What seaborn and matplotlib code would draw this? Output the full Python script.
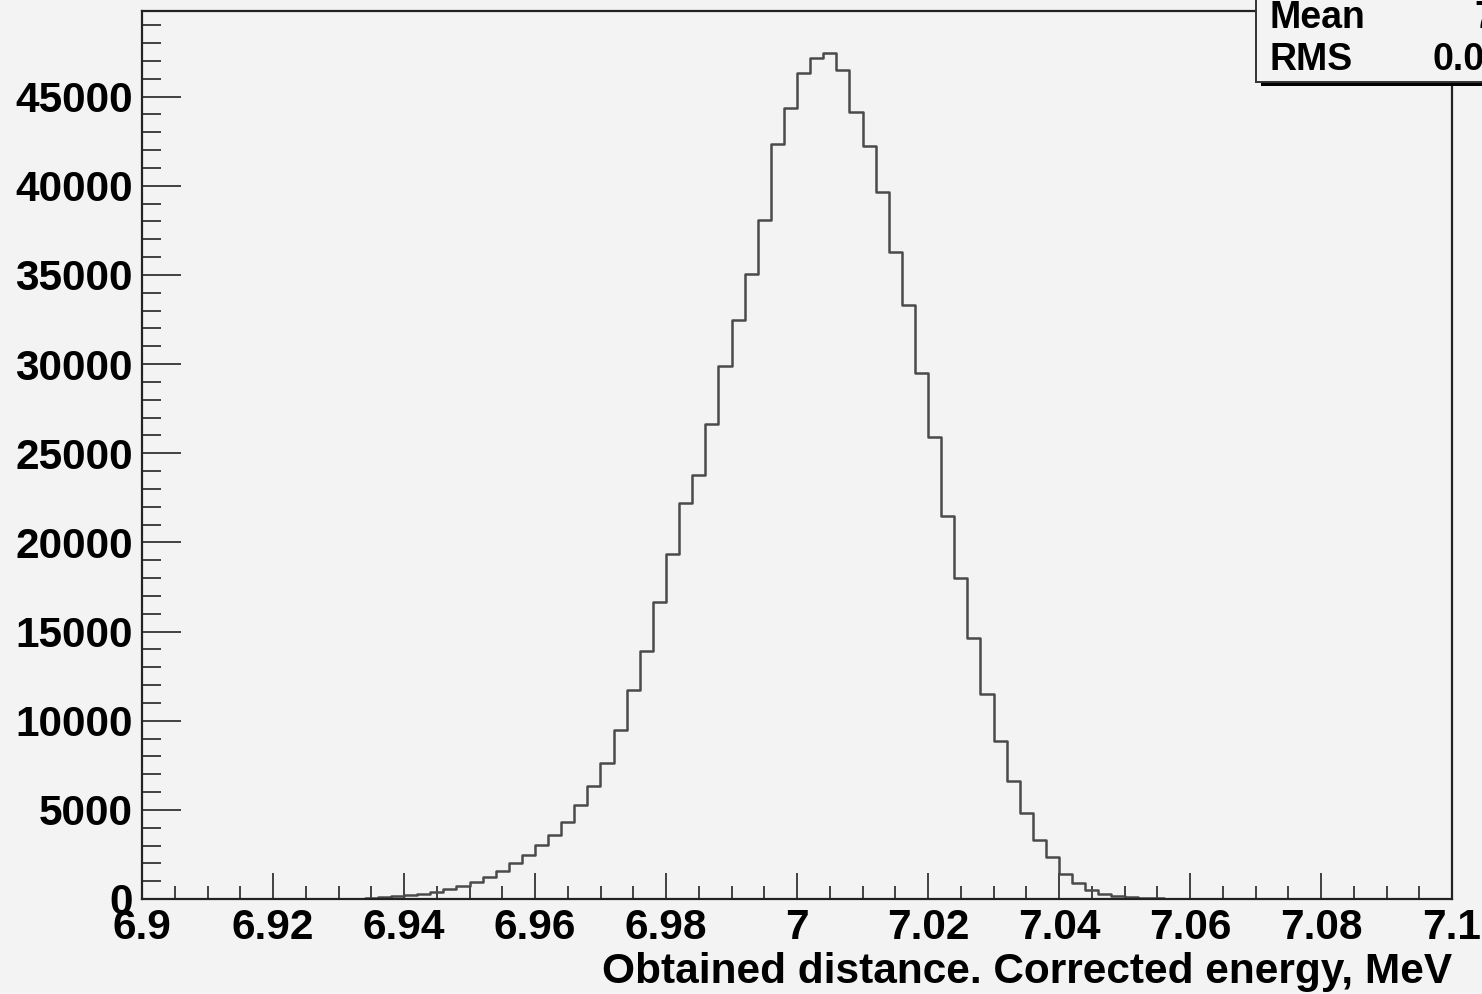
import numpy as np
import pandas as pd
import matplotlib
matplotlib.use("Agg")
import matplotlib.pyplot as plt
from matplotlib.patches import Rectangle
from matplotlib.ticker import MultipleLocator, FuncFormatter
import seaborn as sns

# ---- data ----
x_min, x_max, n_bins = 6.9, 7.1, 100
counts = [0] * 15 + [
    10, 25, 50, 100, 150, 210, 280, 410, 580, 730,            # 15-24
    970, 1250, 1590, 2000, 2470, 3030, 3590, 4340, 5275, 6340,  # 25-34
    7650, 9480, 11730, 13920, 16630, 19340, 22200, 23780, 26660, 29910,  # 35-44
    32490, 35070, 38060, 42370, 44370, 46300, 47180, 47460, 46480, 44160,  # 45-54
    42260, 39670, 36310, 33330, 29480, 25940, 21490, 18000, 14630, 11500,  # 55-64
    8880, 6620, 4840, 3310, 2370, 1390, 920, 505, 280, 170,    # 65-74
    110, 55, 30, 15, 6,                                        # 75-79
] + [0] * 20
x_ticks = [6.9, 6.92, 6.94, 6.96, 6.98, 7.0, 7.02, 7.04, 7.06, 7.08, 7.1]
y_ticks = [0, 5000, 10000, 15000, 20000, 25000, 30000, 35000, 40000, 45000]
x_label = "Obtained distance. Corrected energy, MeV"
stat_names = ["Mean", "RMS"]
stat_values = ["7.002", "0.01552"]

edges = np.linspace(x_min, x_max, n_bins + 1)
centers = 0.5 * (edges[:-1] + edges[1:])
df = pd.DataFrame({"x": centers, "w": counts})

# ---- style ----
W, H, DPI = 1482, 994, 100
bg = "#f3f3f3"
sns.set_theme(style="ticks")
plt.rcParams["font.family"] = ["Liberation Sans", "DejaVu Sans"]
plt.rcParams["font.weight"] = "bold"
plt.rcParams["text.color"] = "black"

fig = plt.figure(figsize=(W / DPI, H / DPI), dpi=DPI, facecolor=bg)
L, R, T, B = 142, 1452, 10.5, 899
ax = fig.add_axes([L / W, 1 - B / H, (R - L) / W, (B - T) / H])
ax.set_facecolor(bg)

sns.histplot(data=df, x="x", weights="w", bins=n_bins, binrange=(x_min, x_max),
             element="step", fill=False, color="#4a4a4a", linewidth=1.8, ax=ax)

ax.set_xlim(x_min, x_max)
ax.set_ylim(0, max(counts) * 1.05)
ax.set_xticks(x_ticks)
ax.xaxis.set_minor_locator(MultipleLocator(0.005))
ax.set_yticks(y_ticks)
ax.yaxis.set_minor_locator(MultipleLocator(1000))
ax.xaxis.set_major_formatter(FuncFormatter(lambda v, p: f"{v:g}"))
ax.yaxis.set_major_formatter(FuncFormatter(lambda v, p: f"{v:g}"))

for s in ax.spines.values():
    s.set_color("#222222")
    s.set_linewidth(1.6)

ax.tick_params(axis="both", which="both", direction="in", colors="#333333",
               labelcolor="black", width=1.3, labelsize=30.5)
ax.tick_params(axis="x", which="major", length=19, pad=6.5)
ax.tick_params(axis="x", which="minor", length=9.5)
ax.tick_params(axis="y", which="major", length=28, pad=6.5)
ax.tick_params(axis="y", which="minor", length=14)
for lab in ax.get_xticklabels() + ax.get_yticklabels():
    lab.set_fontweight("bold")

ax.set_xlabel("")
ax.set_ylabel("")
fig.text(R / W, 1 - 972 / H, x_label, ha="right", va="center",
         fontsize=30.5, fontweight="bold", color="black")

# ---- stats box (cut by the figure edge, as in the reference) ----
bx0, by_bot = 1256, 82
fig.patches.append(Rectangle(((bx0 + 5) / W, 1 - (by_bot + 4) / H),
                             400 / W, (by_bot + 4) / H,
                             transform=fig.transFigure, facecolor="black",
                             edgecolor="none", zorder=5))
fig.patches.append(Rectangle((bx0 / W, 1 - by_bot / H), 400 / W, by_bot / H + 0.01,
                             transform=fig.transFigure, facecolor=bg,
                             edgecolor="#333333", linewidth=1.4, zorder=6))
for i, (nm, val) in enumerate(zip(stat_names, stat_values)):
    yc = 1 - (18 + 42 * i) / H
    fig.text(1270 / W, yc, nm, ha="left", va="center", fontsize=27,
             fontweight="bold", color="black", zorder=7)
    fig.text(1568 / W, yc, val, ha="right", va="center", fontsize=27,
             fontweight="bold", color="black", zorder=7)

fig.savefig("out.png", dpi=DPI, facecolor=bg)
